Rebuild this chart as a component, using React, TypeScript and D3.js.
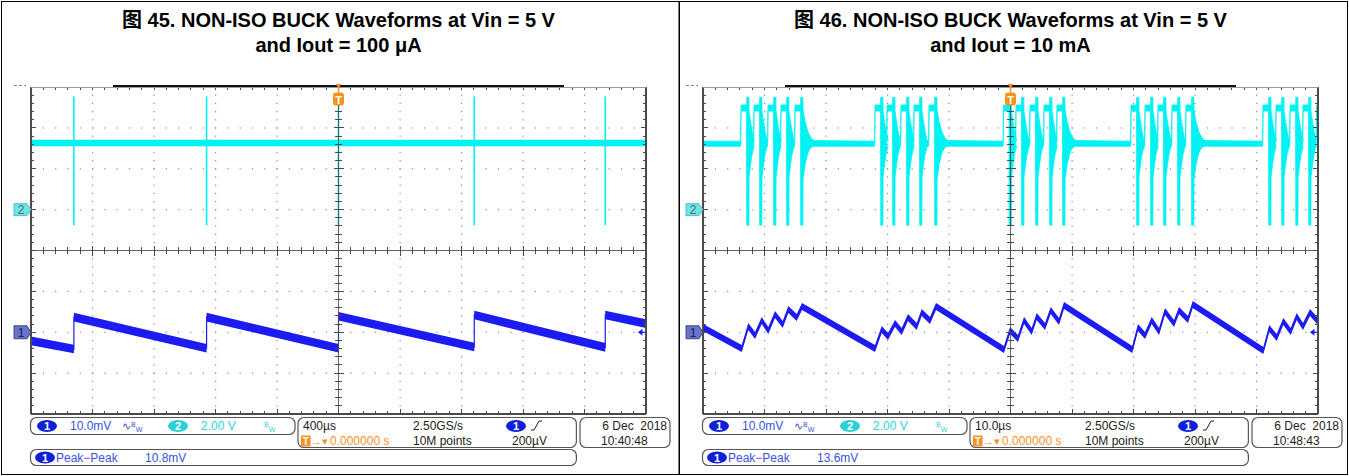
import React from 'react';
import * as d3 from 'd3';

const W = 1349, H = 476;

// ---------------- data ----------------
const titleLeft = ['图 45. NON-ISO BUCK Waveforms at Vin = 5 V', 'and Iout = 100 μA'];
const titleRight = ['图 46. NON-ISO BUCK Waveforms at Vin = 5 V', 'and Iout = 10 mA'];

// left screen: 400 µs/div
const leftJumpTimes = [-1721, -858, 0, 883, 1735];
const leftCh1Times = [-2000, -1721, -1721, -858, -858, 0, 0, 883, 883, 1735, 1735, 2000];
const leftCh1Values = [-2.1, -4.1, 3.7, -3.9, 3.7, -3.9, 3.9, -3.6, 4.2, -3.7, 4.2, 2.1];
const leftCh2Baseline = [3.1, 3.42];
const leftCh2Spike = [-0.76, 5.54];

// right screen: 10 µs/div
const rightCh1Times = [-50, -43.7, -42.63, -41.54, -40.45, -39.38, -38.29, -37.04, -36.13, -34.76, -33.9,
  -22.03, -20.94, -19.92, -18.78, -17.69, -16.67, -15.25, -14.44, -13.09, -12.11,
  -1.06, -0.08, 1.22, 2.2, 3.45, 4.26, 5.61, 6.54, 7.89, 8.7,
  19.8, 20.73, 21.87, 22.96, 24.15, 25.12, 26.59, 27.4, 28.86, 29.63,
  41.11, 42.08, 43.28, 44.36, 45.56, 46.54, 47.56, 48.7, 50];
const rightCh1Values = [1.16, -3.98, 1.41, -0.8, 2.87, 0.43, 4.34, 1.9, 5.57, 3.61, 6.3,
  -3.98, 0.67, -1.04, 2.14, 0.18, 3.61, 1.41, 4.83, 2.87, 6.3,
  -4.22, 0.43, -1.53, 2.87, 0.18, 3.85, 1.41, 5.32, 2.63, 6.54,
  -4.22, 1.16, -0.8, 2.87, 0.18, 5.08, 2.14, 5.32, 3.12, 6.79,
  -4.47, 0.92, -1.28, 2.63, 0.18, 3.85, 1.41, 4.83, 2.63];
const rightBursts = [
  [-42.68, -40.57, -38.29, -36.18, -33.9],
  [-20.89, -18.94, -16.67, -14.55, -12.11],
  [0.0, 2.03, 4.31, 6.59, 8.7],
  [20.73, 23.01, 25.12, 27.4, 29.67],
  [42.2, 44.32, 46.6, 48.7, 50.9],
];
const rightLastInBurst = [true, true, true, true, false];
// switching pulse envelope around each spike: [dt µs, upper V, lower V]
const pulseShape: [number, number, number][] = [
  [-1.2, 3.35, 3.1], [-1.14, 5.12, 4.82], [-0.24, 5.12, 4.82], [-0.21, 5.5, -0.76],
  [0.14, 5.5, -0.76], [0.17, 4.8, 1.6], [0.41, 4.3, 2.2], [0.65, 3.85, 2.7],
  [0.9, 3.5, 3.0], [1.02, 3.38, 3.08],
];
const lastPulseShape: [number, number, number][] = [
  [-1.2, 3.35, 3.1], [-1.14, 5.12, 4.82], [-0.24, 5.12, 4.82], [-0.21, 5.5, -0.76],
  [0.14, 5.5, -0.76], [0.17, 4.9, 1.5], [0.5, 4.3, 2.2], [0.98, 3.8, 2.8],
  [1.46, 3.5, 3.05], [1.95, 3.38, 3.1],
];
const rightCh2Baseline = [3.1, 3.35];

// scope settings (per screen)
const ch1Scale = 10; // mV/div
const ch1Pos = -2; // div
const ch2Scale = 2; // V/div
const ch2Pos = 1; // div

const infoLeft = { time: '400µs', ptp: '10.8mV', date: '6 Dec  2018', clock: '10:40:48' };
const infoRight = { time: '10.0µs', ptp: '13.6mV', date: '6 Dec  2018', clock: '10:48:43' };

// ---------------- layout ----------------
const GY = 87, GW = 615, GH = 327;
const BLUE = '#1c1cf2';
const CYAN = '#00f2f2';
const TBLUE = '#3a52dc';
const TCYAN = '#2fd3df';
const ORANGE = '#f7931e';
const FONT = 'Liberation Sans, Arial, sans-serif';

type Env = [number, number, number];

function buildEnvelope(): Env[] {
  const pts: Env[] = [[-52, rightCh2Baseline[1], rightCh2Baseline[0]]];
  rightBursts.forEach((b, bi) => {
    b.forEach((t, i) => {
      const shape = i === b.length - 1 && rightLastInBurst[bi] ? lastPulseShape : pulseShape;
      shape.forEach(([dt, hi, lo]) => pts.push([t + dt, hi, lo]));
    });
  });
  pts.push([53, rightCh2Baseline[1], rightCh2Baseline[0]]);
  return pts;
}

function Graticule({ gx }: { gx: number }) {
  const subX = GW / 50, subY = GH / 40, divX = GW / 10, divY = GH / 8;
  const dots: JSX.Element[] = [];
  for (let i = 1; i < 10; i++) {
    if (i === 5) continue;
    for (let j = 1; j < 40; j++) dots.push(<rect key={`v${i}-${j}`} x={gx + i * divX - 0.5} y={GY + j * subY - 0.5} width={1.2} height={1.2} fill="#8c8c8c" />);
  }
  for (let k = 1; k < 8; k++) {
    if (k === 4) continue;
    for (let j = 1; j < 50; j++) dots.push(<rect key={`h${k}-${j}`} x={gx + j * subX - 0.5} y={GY + k * divY - 0.5} width={1.2} height={1.2} fill="#8c8c8c" />);
  }
  return <g>{dots}</g>;
}

function GratFrame({ gx }: { gx: number }) {
  const subX = GW / 50, subY = GH / 40;
  const cx = gx + GW / 2, cy = GY + GH / 2;
  const t: JSX.Element[] = [];
  for (let j = 1; j < 40; j++) {
    const y = GY + j * subY;
    const L = j % 5 === 0 ? 5 : 3.5;
    t.push(<line key={`cv${j}`} x1={cx - L} x2={cx + L} y1={y} y2={y} />);
    t.push(<line key={`lv${j}`} x1={gx} x2={gx + (j % 5 === 0 ? 5 : 3)} y1={y} y2={y} />);
    t.push(<line key={`rv${j}`} x1={gx + GW - (j % 5 === 0 ? 5 : 3)} x2={gx + GW} y1={y} y2={y} />);
  }
  for (let j = 1; j < 50; j++) {
    const x = gx + j * subX;
    const L = j % 5 === 0 ? 5 : 3.5;
    t.push(<line key={`ch${j}`} x1={x} x2={x} y1={cy - L} y2={cy + L} />);
    t.push(<line key={`bh${j}`} x1={x} x2={x} y1={GY + GH - (j % 5 === 0 ? 5 : 3)} y2={GY + GH} />);
    t.push(<line key={`th${j}`} x1={x} x2={x} y1={GY} y2={GY + 3} />);
  }
  return (
    <g stroke="#4a4a4a" strokeWidth={1} shapeRendering="crispEdges">
      {t}
      <line x1={cx} x2={cx} y1={GY} y2={GY + GH} strokeOpacity={0.85} />
      <line x1={gx} x2={gx + GW} y1={cy} y2={cy} strokeOpacity={0.85} />
      <line x1={gx} x2={gx} y1={GY} y2={GY + GH} strokeWidth={1.5} />
      <line x1={gx + GW} x2={gx + GW} y1={GY} y2={GY + GH} strokeWidth={1.5} />
      <line x1={gx} x2={gx + GW} y1={GY + GH} y2={GY + GH} strokeWidth={1.5} />
      <line x1={gx} x2={gx + GW} y1={GY} y2={GY} stroke="#9a9a9a" />
      <line x1={gx + 82} x2={gx + 533} y1={GY - 1} y2={GY - 1} stroke="#111" strokeWidth={2} />
      <line x1={gx - 17} x2={gx - 5} y1={GY - 1.5} y2={GY - 1.5} stroke="#888" strokeDasharray="3,2" />
    </g>
  );
}

function Markers({ gx }: { gx: number }) {
  const cx = gx + GW / 2;
  const y2 = GY + GH / 2 - (GH / 8) * ch2Pos;
  const y1 = GY + GH / 2 - (GH / 8) * ch1Pos;
  return (
    <g>
      <path d={`M${gx - 17},${y2 - 6} L${gx - 4},${y2 - 6} L${gx},${y2} L${gx - 4},${y2 + 6} L${gx - 17},${y2 + 6} Z`} fill="#6fe3e6" stroke="#3ab8bb" strokeWidth={0.8} strokeLinejoin="round" />
      <text x={gx - 10} y={y2 + 4.5} fontSize={12} fontFamily={FONT} fill="#4b6b70" textAnchor="middle">2</text>
      <path d={`M${gx - 17},${y1 - 6.5} L${gx - 4},${y1 - 6.5} L${gx},${y1} L${gx - 4},${y1 + 6.5} L${gx - 17},${y1 + 6.5} Z`} fill="#6675c9" stroke="#333a80" strokeWidth={0.9} strokeLinejoin="round" />
      <text x={gx - 10} y={y1 + 4.5} fontSize={12} fontFamily={FONT} fill="#20244a" textAnchor="middle">1</text>
      <path d={`M${cx - 3},${GY - 3} L${cx + 3},${GY - 3} L${cx},${GY + 1} Z`} fill={ORANGE} />
      <line x1={cx} x2={cx} y1={GY} y2={GY + 6} stroke={ORANGE} strokeWidth={1.5} />
      <rect x={cx - 5.5} y={GY + 5.5} width={11} height={13} rx={3} fill={ORANGE} />
      <text x={cx} y={GY + 16.5} fontSize={11} fontWeight="bold" fontFamily={FONT} fill="#fff" textAnchor="middle">T</text>
      <path d={`M${gx + GW - 1},${y1} L${gx + GW - 7},${y1}`} stroke={BLUE} strokeWidth={1.2} />
      <path d={`M${gx + GW - 8},${y1} L${gx + GW - 3.5},${y1 - 3.5} L${gx + GW - 3.5},${y1 + 3.5} Z`} fill={BLUE} />
    </g>
  );
}

function Oval({ cx, cy, fill, label }: { cx: number; cy: number; fill: string; label: string }) {
  return (
    <g>
      <ellipse cx={cx} cy={cy} rx={10} ry={6} fill={fill} />
      <text x={cx} y={cy + 4} fontSize={11} fontWeight="bold" fontFamily={FONT} fill="#fff" textAnchor="middle">{label}</text>
    </g>
  );
}

function InfoBoxes({ gx, info }: { gx: number; info: typeof infoLeft }) {
  const r1 = 430, r2 = 445, r3 = 462;
  return (
    <g fontFamily={FONT} fontSize={12}>
      <rect x={gx - 0.5} y={417.5} width={264.5} height={17} rx={6} fill="none" stroke="#555" strokeWidth={1.2} />
      <rect x={gx + 267} y={417.5} width={278.4} height={30} rx={6} fill="none" stroke="#555" strokeWidth={1.2} />
      <rect x={gx + 549} y={417.5} width={90} height={30} rx={6} fill="none" stroke="#555" strokeWidth={1.2} />
      <rect x={gx - 0.5} y={449.5} width={545.9} height={16} rx={6} fill="none" stroke="#555" strokeWidth={1.2} />

      <Oval cx={gx + 16} cy={426} fill="#1020d8" label="1" />
      <text x={gx + 39} y={r1} fill={TBLUE}>10.0mV</text>
      <text x={gx + 91} y={r1} fill={TBLUE} fontSize={11}>∿<tspan fontSize={7} dy={-3}>B</tspan><tspan fontSize={7} dy={5}>W</tspan></text>
      <Oval cx={gx + 147} cy={426} fill="#2ccfd6" label="2" />
      <text x={gx + 170} y={r1} fill={TCYAN}>2.00 V</text>
      <text x={gx + 233} y={r1} fill={TCYAN}><tspan fontSize={7} dy={-3}>B</tspan><tspan fontSize={7} dy={5}>W</tspan></text>

      <text x={gx + 272} y={r1} fill="#222">{info.time}</text>
      <text x={gx + 382} y={r1} fill="#222">2.50GS/s</text>
      <Oval cx={gx + 485} cy={426} fill="#1020d8" label="1" />
      <path d={`M${gx + 500},${r1} L${gx + 503},${r1} L${gx + 508},${r1 - 9} L${gx + 511},${r1 - 9}`} fill="none" stroke="#222" strokeWidth={1} />
      <rect x={gx + 270} y={435.5} width={9.5} height={11} fill={ORANGE} />
      <text x={gx + 274.75} y={444.5} fontSize={10} fontWeight="bold" fill="#fff" textAnchor="middle">T</text>
      <text x={gx + 280} y={r2} fill={ORANGE} fontSize={11}>→▾</text>
      <text x={gx + 299} y={r2} fill={ORANGE}>0.000000 s</text>
      <text x={gx + 382} y={r2} fill="#222">10M points</text>
      <text x={gx + 481} y={r2} fill="#222">200µV</text>
      <text x={gx + 636} y={r1} fill="#222" textAnchor="end" xmlSpace="preserve">{info.date}</text>
      <text x={gx + 570} y={r2} fill="#222">{info.clock}</text>

      <Oval cx={gx + 14} cy={457.5} fill="#1020d8" label="1" />
      <text x={gx + 25} y={r3} fill={TBLUE}>Peak−Peak</text>
      <text x={gx + 114} y={r3} fill={TBLUE}>{info.ptp}</text>
    </g>
  );
}

function LeftTraces({ gx }: { gx: number }) {
  const x = d3.scaleLinear().domain([-2000, 2000]).range([gx, gx + GW]);
  const y1 = d3.scaleLinear().domain([(-4 - ch1Pos) * ch1Scale, (4 - ch1Pos) * ch1Scale]).range([GY + GH, GY]);
  const y2 = d3.scaleLinear().domain([(-4 - ch2Pos) * ch2Scale, (4 - ch2Pos) * ch2Scale]).range([GY + GH, GY]);
  const pts = leftCh1Times.map((t, i) => [t, leftCh1Values[i]] as [number, number]);
  const band = 1.05;
  const area = d3.area<[number, number]>().x(d => x(d[0])).y0(d => y1(d[1] - band)).y1(d => y1(d[1] + band));
  const line = d3.line<[number, number]>().x(d => x(d[0])).y(d => y1(d[1]));
  return (
    <g>
      <rect x={gx} y={y2(leftCh2Baseline[1])} width={GW} height={y2(leftCh2Baseline[0]) - y2(leftCh2Baseline[1])} fill={CYAN} />
      {leftJumpTimes.map((t, i) => (
        <line key={i} x1={x(t)} x2={x(t)} y1={y2(leftCh2Spike[1])} y2={y2(leftCh2Spike[0])} stroke={CYAN} strokeWidth={1.6} />
      ))}
      <path d={area(pts) || ''} fill={BLUE} />
      <path d={line(pts) || ''} fill="none" stroke={BLUE} strokeWidth={1.2} />
    </g>
  );
}

function RightTraces({ gx }: { gx: number }) {
  const x = d3.scaleLinear().domain([-50, 50]).range([gx, gx + GW]);
  const y1 = d3.scaleLinear().domain([(-4 - ch1Pos) * ch1Scale, (4 - ch1Pos) * ch1Scale]).range([GY + GH, GY]);
  const y2 = d3.scaleLinear().domain([(-4 - ch2Pos) * ch2Scale, (4 - ch2Pos) * ch2Scale]).range([GY + GH, GY]);
  const pts = rightCh1Times.map((t, i) => [t, rightCh1Values[i]] as [number, number]);
  const band = 0.85;
  const area = d3.area<[number, number]>().x(d => x(d[0])).y0(d => y1(d[1] - band)).y1(d => y1(d[1] + band));
  const line = d3.line<[number, number]>().x(d => x(d[0])).y(d => y1(d[1]));
  const env = buildEnvelope();
  const envArea = d3.area<Env>().x(d => x(d[0])).y0(d => y2(d[2])).y1(d => y2(d[1]));
  return (
    <g>
      <path d={envArea(env) || ''} fill={CYAN} stroke={CYAN} strokeWidth={0.8} />
      <path d={area(pts) || ''} fill={BLUE} />
      <path d={line(pts) || ''} fill="none" stroke={BLUE} strokeWidth={1.2} />
    </g>
  );
}

function Title({ cx, lines }: { cx: number; lines: string[] }) {
  return (
    <g fontFamily={"Liberation Sans, Arial, 'Noto Sans CJK SC', sans-serif"} fontWeight="bold" fontSize={20} textAnchor="middle" fill="#000">
      <text x={cx} y={27}>{lines[0]}</text>
      <text x={cx} y={52}>{lines[1]}</text>
    </g>
  );
}

export default function App() {
  const gxL = 31, gxR = 703;
  return (
    <svg width={W} height={H} style={{ position: 'absolute', left: 0, top: 0, background: '#fff' }}>
      <defs>
        <clipPath id="clipL"><rect x={gxL} y={GY} width={GW} height={GH} /></clipPath>
        <clipPath id="clipR"><rect x={gxR} y={GY} width={GW} height={GH} /></clipPath>
      </defs>
      <rect x={0} y={0} width={W} height={H} fill="#fff" />
      <rect x={1.5} y={1.5} width={677.5} height={473} fill="none" stroke="#000" strokeWidth={1} />
      <rect x={679.5} y={1.5} width={668} height={473} fill="none" stroke="#000" strokeWidth={1} />
      <Title cx={gxL + GW / 2} lines={titleLeft} />
      <Title cx={gxR + GW / 2} lines={titleRight} />

      <Graticule gx={gxL} />
      <Graticule gx={gxR} />
      <g clipPath="url(#clipL)"><LeftTraces gx={gxL} /></g>
      <g clipPath="url(#clipR)"><RightTraces gx={gxR} /></g>
      <GratFrame gx={gxL} />
      <GratFrame gx={gxR} />
      <Markers gx={gxL} />
      <Markers gx={gxR} />
      <InfoBoxes gx={gxL} info={infoLeft} />
      <InfoBoxes gx={gxR} info={infoRight} />
    </svg>
  );
}
